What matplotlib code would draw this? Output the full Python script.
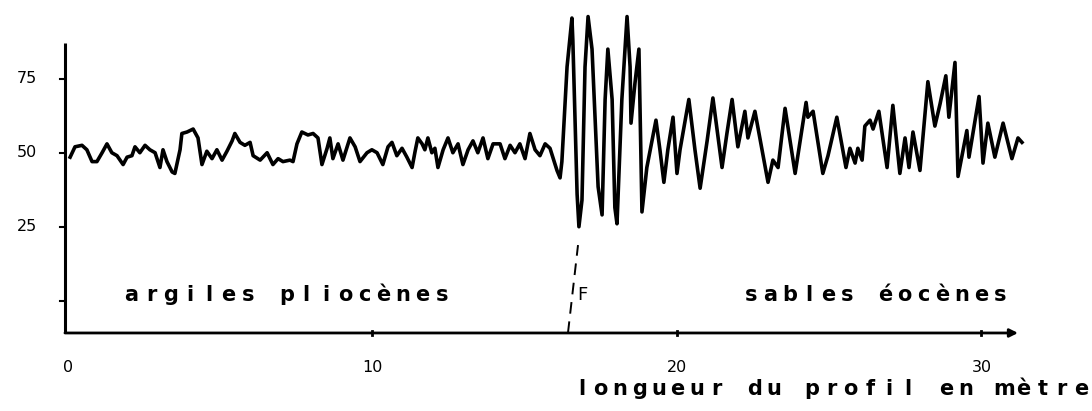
import numpy as np
import matplotlib
matplotlib.use('Agg')
import matplotlib.pyplot as plt

# profile (distance in m, signal value)
dist = [0.07, 0.23, 0.46, 0.62, 0.79, 0.95, 1.12, 1.28, 1.44, 1.61,
        1.81, 1.94, 2.10, 2.20, 2.36, 2.53, 2.69, 2.86, 3.02, 3.12,
        3.25, 3.42, 3.51, 3.68, 3.74, 3.91, 4.11, 4.27, 4.40, 4.56,
        4.73, 4.89, 5.06, 5.22, 5.39, 5.48, 5.65, 5.81, 5.98, 6.08,
        6.31, 6.54, 6.73, 6.90, 7.06, 7.29, 7.39, 7.52, 7.68, 7.88,
        8.05, 8.21, 8.34, 8.51, 8.60, 8.70, 8.87, 9.03, 9.26, 9.43,
        9.59, 9.82, 9.98, 10.15, 10.34, 10.51, 10.64, 10.80, 10.97, 11.13,
        11.30, 11.40, 11.49, 11.63, 11.72, 11.82, 11.95, 12.05, 12.15, 12.32,
        12.48, 12.64, 12.81, 12.97, 13.14, 13.30, 13.46, 13.63, 13.79, 13.96,
        14.19, 14.35, 14.52, 14.68, 14.84, 15.01, 15.17, 15.34, 15.50, 15.67,
        15.83, 16.06, 16.16, 16.22, 16.39, 16.55, 16.58, 16.72, 16.78, 16.88,
        16.98, 17.08, 17.21, 17.41, 17.54, 17.64, 17.73, 17.87, 17.96, 18.03,
        18.19, 18.36, 18.46, 18.49, 18.62, 18.75, 18.85, 19.01, 19.31, 19.44,
        19.57, 19.70, 19.87, 20.00, 20.10, 20.39, 20.59, 20.76, 20.99, 21.18,
        21.48, 21.64, 21.81, 22.00, 22.23, 22.33, 22.56, 22.99, 23.15, 23.32,
        23.55, 23.88, 24.24, 24.30, 24.47, 24.79, 24.96, 25.25, 25.55, 25.68,
        25.85, 25.94, 26.08, 26.17, 26.34, 26.44, 26.63, 26.90, 27.09, 27.32,
        27.49, 27.62, 27.75, 27.98, 28.24, 28.47, 28.64, 28.83, 28.93, 29.13,
        29.23, 29.52, 29.59, 29.92, 30.05, 30.21, 30.44, 30.71, 31.00, 31.20,
        31.33]
signal = [48.5, 52, 52.5, 51, 47, 47, 50, 53, 50, 49,
          46, 48.5, 49, 52, 50, 52.5, 51, 50, 45, 51,
          47, 43.5, 43, 51, 56.5, 57, 58, 55, 46, 50.5,
          48, 51, 47.5, 50.5, 54, 56.5, 53.5, 52.5, 53.5, 49,
          47.5, 50, 46, 48, 47, 47.5, 47, 53, 57, 56,
          56.5, 55, 46, 51.5, 55, 48, 53, 47.5, 55, 52,
          47, 50, 51, 50, 46, 52, 53.5, 49, 51.5, 48.5,
          45, 50.5, 55, 53, 51, 55, 50, 51.5, 45, 51,
          55, 50, 53, 46, 51, 54, 50, 55, 48, 53,
          53, 48, 52.5, 50, 53, 48, 56.5, 51, 49, 53,
          51.5, 44, 41.5, 47, 79, 95.5, 88, 36, 25, 34,
          79, 96, 85, 38.5, 29, 68, 85, 68, 31.5, 26,
          68, 96, 79, 60, 73.5, 85, 30, 45, 61, 51,
          40, 51, 62, 43, 51, 68, 51, 38, 54, 68.5,
          45, 56.5, 68, 52, 64, 55, 64, 40, 47.5, 45,
          65, 43, 67, 62, 64, 43, 49, 62, 45, 51.5,
          46.5, 51.5, 47.5, 59, 61, 58, 64, 45, 66, 43,
          55, 45, 57, 44, 74, 59, 66.5, 76, 62, 80.5,
          42, 57.5, 48.5, 69, 46.5, 60, 48.5, 60, 48, 55,
          53.5]

y_ticks = [75, 50, 25]
x_ticks = [0, 10, 20, 30]
fault_x = [16.42, 16.75]
fault_y = [-10.9, 18.8]

fig = plt.figure(figsize=(10.92, 4.11), dpi=100)
ax = fig.add_axes([0, 0, 1, 1])
ax.set_xlim(-2.233, 33.63)
ax.set_ylim(-37.26, 101.6)
ax.axis('off')

x0, y0 = -0.1, -10.9

# axes drawn by hand like the original
ax.plot([x0, x0], [y0, 87], color='black', lw=2.2, solid_capstyle='butt')
ax.annotate('', xy=(31.2, y0), xytext=(x0, y0),
            arrowprops=dict(arrowstyle='-|>', lw=2, color='black',
                            mutation_scale=12, shrinkA=0, shrinkB=0))
for v in y_ticks + [0]:
    ax.plot([x0 - 0.15, x0], [v, v], color='black', lw=1.5)
for t in x_ticks[1:]:
    ax.plot([t, t], [y0 - 0.6, y0 + 0.6], color='black', lw=2)

for v in y_ticks:
    ax.text(-1.35, v, str(v), ha='center', va='center', fontsize=11.5,
            family='DejaVu Sans')
for t in x_ticks:
    ax.text(t, -22.5, str(t), ha='center', va='center', fontsize=11.5,
            family='DejaVu Sans')

# the signal
ax.plot(dist, signal, color='black', lw=2.6, solid_joinstyle='round')

# fault
ax.plot(fault_x, fault_y, color='black', lw=1.4, dashes=(6, 4))
ax.text(16.72, 1.9, 'F', ha='left', va='center', fontsize=13, family='DejaVu Sans')


def spaced(x, y, s, pitch):
    # typewriter-like letter spacing: one slot per character
    for i, ch in enumerate(s):
        if ch != ' ':
            ax.text(x + (i + 0.5) * pitch, y, ch, ha='center', va='center',
                    fontsize=15, fontweight='bold', family='DejaVu Sans')


spaced(1.77, 1.9, 'argiles pliocènes', 0.637)
spaced(22.13, 1.9, 'sables éocènes', 0.628)
spaced(16.55, -29.9, 'longueur du profil en mètre', 0.631)

plt.savefig('out.png', dpi=100)
